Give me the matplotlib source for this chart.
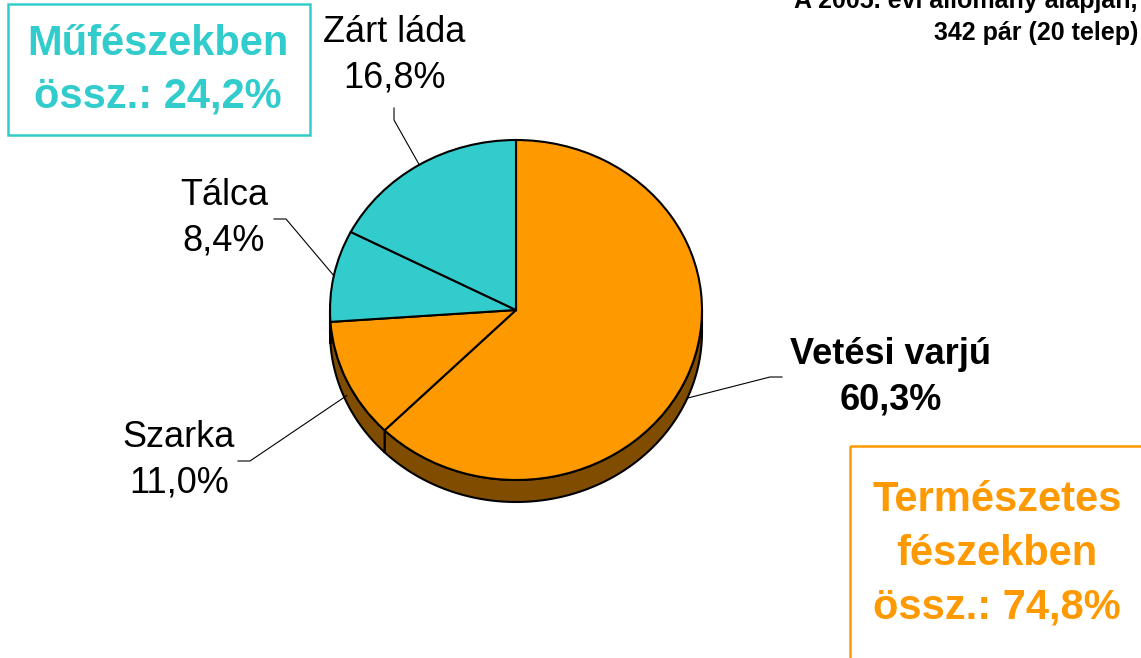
import numpy as np
import matplotlib
matplotlib.use('Agg')
import matplotlib.pyplot as plt
from matplotlib.patches import Rectangle, Polygon

plt.rcParams['font.family'] = ['Liberation Sans', 'DejaVu Sans']

# data (percent of all pairs, 2005)
labels = ['Vetési varjú', 'Szarka', 'Tálca', 'Zárt láda']
values = [60.3, 11.0, 8.4, 16.8]
colors = ['#FF9900', '#FF9900', '#33CCCC', '#33CCCC']
natural_total = 74.8
artificial_total = 24.2

W, H = 1141, 658
fig = plt.figure(figsize=(W / 100, H / 100), dpi=100)

# pie geometry in pixels (top-left origin)
cx, cy, rx, ry = 516, 310, 186, 170
depth = 22

axp = fig.add_axes([(cx - rx) / W, 1 - (cy + ry) / H, 2 * rx / W, 2 * ry / H])
wedges, _ = axp.pie(values, colors=colors, startangle=90, counterclock=False,
                    radius=1, wedgeprops=dict(edgecolor='black', linewidth=1.5))
axp.set_aspect('auto')
axp.set_xlim(-1, 1)
axp.set_ylim(-1, 1)
axp.axis('off')
for w in wedges:
    w.set_zorder(3)
    w.set_clip_on(False)

# side of the tilted pie
d = depth / ry
for w in wedges:
    t1, t2 = w.theta1, w.theta2
    for off in (-360, 0, 360):
        a, b = max(t1 + off, -180), min(t2 + off, 0)
        if b <= a:
            continue
        t = np.radians(np.linspace(a, b, 80))
        top = np.column_stack([np.cos(t), np.sin(t)])
        bot = top[::-1] - [0, d]
        fc = np.array(matplotlib.colors.to_rgb(w.get_facecolor())) * 0.5
        side = Polygon(np.vstack([top, bot]), closed=True, facecolor=fc,
                       edgecolor='black', linewidth=1.5, zorder=2, clip_on=False)
        axp.add_patch(side)

# overlay in pixel coords for texts, leaders, boxes
ax = fig.add_axes([0, 0, 1, 1])
ax.set_xlim(0, W)
ax.set_ylim(H, 0)
ax.axis('off')

def fmt(v):
    return f'{v:.1f}%'.replace('.', ',')

def anchor(w, drop):
    m = np.radians((w.theta1 + w.theta2) / 2)
    return cx + rx * np.cos(m), cy - ry * np.sin(m) + drop

# label positions (centre of two-line label) and leader elbows
lab_pos = [(891, 377), (179, 460), (224, 218), (394, 55)]
elbows = [[(782, 377), (770, 377)], [(238, 461), (250, 461)],
          [(274, 219), (286, 219)], [(394, 108), (394, 120)]]
drops = [23, 15, 0, 0]
for i, w in enumerate(wedges):
    x, y = lab_pos[i]
    bold = i == 0
    ax.text(x, y, labels[i] + '\n' + fmt(values[i]), ha='center', va='center',
            fontsize=26, fontweight='bold' if bold else 'normal',
            linespacing=1.4, color='black')
    px, py = anchor(w, drops[i])
    pts = elbows[i] + [(px, py)]
    ax.plot([p[0] for p in pts], [p[1] for p in pts], color='black', lw=0.8)

# summary boxes
ax.add_patch(Rectangle((8, 4), 302, 131, fill=False, edgecolor='#33CCCC', lw=1.8))
ax.text(158, 70, 'Műfészekben\nössz.: ' + fmt(artificial_total), ha='center',
        va='center', fontsize=30, fontweight='bold', color='#33CCCC', linespacing=1.4)

ax.add_patch(Rectangle((850, 446), 400, 300, fill=False, edgecolor='#FF9900', lw=1.8))
ax.text(997, 554, 'Természetes\nfészekben\nössz.: ' + fmt(natural_total), ha='center',
        va='center', fontsize=30, fontweight='bold', color='#FF9900', linespacing=1.45)

ax.text(1138, 8, 'A 2005. évi állomány alapján,', ha='right', va='baseline',
        fontsize=18, fontweight='bold')
ax.text(1138, 40, '342 pár (20 telep)', ha='right', va='baseline',
        fontsize=18, fontweight='bold')

fig.savefig('out.png', dpi=100)
